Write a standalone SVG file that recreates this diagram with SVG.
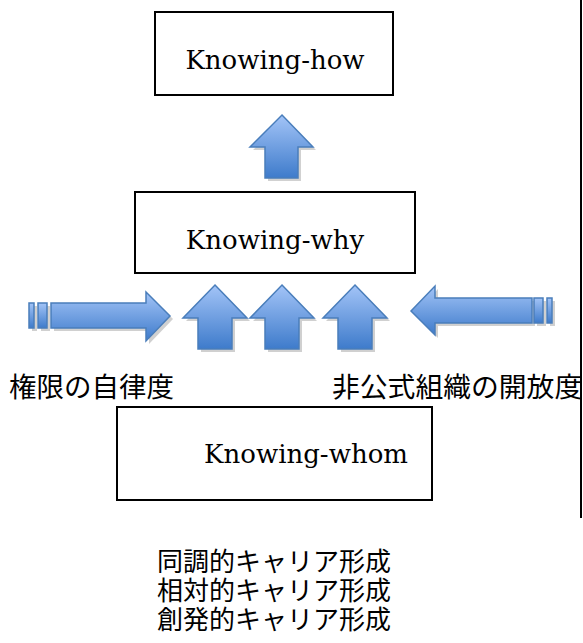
<svg xmlns="http://www.w3.org/2000/svg" width="583" height="643" viewBox="0 0 583 643">
<defs>
<linearGradient id="gv" x1="0" y1="0" x2="0" y2="1">
<stop offset="0" stop-color="#A3C4F7"/>
<stop offset="1" stop-color="#3E7BCB"/>
</linearGradient>
<style>
.box{fill:#fff;stroke:#000;stroke-width:2}
.lbl{font-family:"DejaVu Serif","Liberation Serif",serif;font-size:26px;fill:#000;text-anchor:middle}
.jp{font-family:"Noto Sans CJK JP","Noto Sans",sans-serif;fill:#000}
.arr{fill:url(#gv);stroke:#4A7EBB;stroke-width:1.5;stroke-linejoin:miter}
.sh{fill:#000;opacity:0.18}
</style>
</defs>
<rect width="583" height="643" fill="#fff"/>
<line x1="581" y1="0" x2="581" y2="518" stroke="#000" stroke-width="2"/>

<g id="node-how">
<rect class="box" x="155" y="12" width="238" height="83"/>
<text class="lbl" x="275" y="69">Knowing-how</text>
</g>
<g id="node-why">
<rect class="box" x="135" y="192" width="280" height="81"/>
<text class="lbl" x="275" y="249">Knowing-why</text>
</g>
<g id="node-whom">
<rect class="box" x="117" y="407" width="315" height="93"/>
<text class="lbl" x="306" y="463">Knowing-whom</text>
</g>

<g id="connectors">
<g class="sh">
<polygon points="285,118 316,150 301,150 301,181 268,181 268,150 253,150"/>
<polygon points="218,288 250,321 235,321 235,352 201,352 201,321 186,321"/>
<polygon points="285,288 317,321 302,321 302,352 268,352 268,321 253,321"/>
<polygon points="358,288 390,321 375,321 375,352 341,352 341,321 326,321"/>
<polygon points="54,306 149,306 149,295 173,319 149,344 149,331 54,331"/>
<rect x="32" y="306" width="5" height="25"/><rect x="41" y="306" width="9" height="25"/>
<polygon points="414,314 438,289 438,301 535,301 535,326 438,326 438,338"/>
<rect x="537" y="301" width="9" height="25"/><rect x="550" y="301" width="5" height="25"/>
</g>
<polygon class="arr" points="282,115 313,147 298,147 298,178 265,178 265,147 250,147"/>
<polygon class="arr" points="215,285 247,318 232,318 232,349 198,349 198,318 183,318"/>
<polygon class="arr" points="282,285 314,318 299,318 299,349 265,349 265,318 250,318"/>
<polygon class="arr" points="355,285 387,318 372,318 372,349 338,349 338,318 323,318"/>
<rect class="arr" x="29" y="303" width="5" height="25"/>
<rect class="arr" x="38" y="303" width="9" height="25"/>
<polygon class="arr" points="51,303 146,303 146,292 170,316 146,341 146,328 51,328"/>
<polygon class="arr" points="411,311 435,286 435,298 532,298 532,323 435,323 435,335"/>
<rect class="arr" x="534" y="298" width="9" height="25"/>
<rect class="arr" x="547" y="298" width="5" height="25"/>
</g>

<text class="jp" x="9" y="397" font-size="27.5">権限の自律度</text>
<text class="jp" x="332" y="397" font-size="27.8">非公式組織の開放度</text>

<g class="jp" font-size="26" text-anchor="middle">
<text x="274" y="571">同調的キャリア形成</text>
<text x="274" y="600">相対的キャリア形成</text>
<text x="274" y="629">創発的キャリア形成</text>
</g>
</svg>
